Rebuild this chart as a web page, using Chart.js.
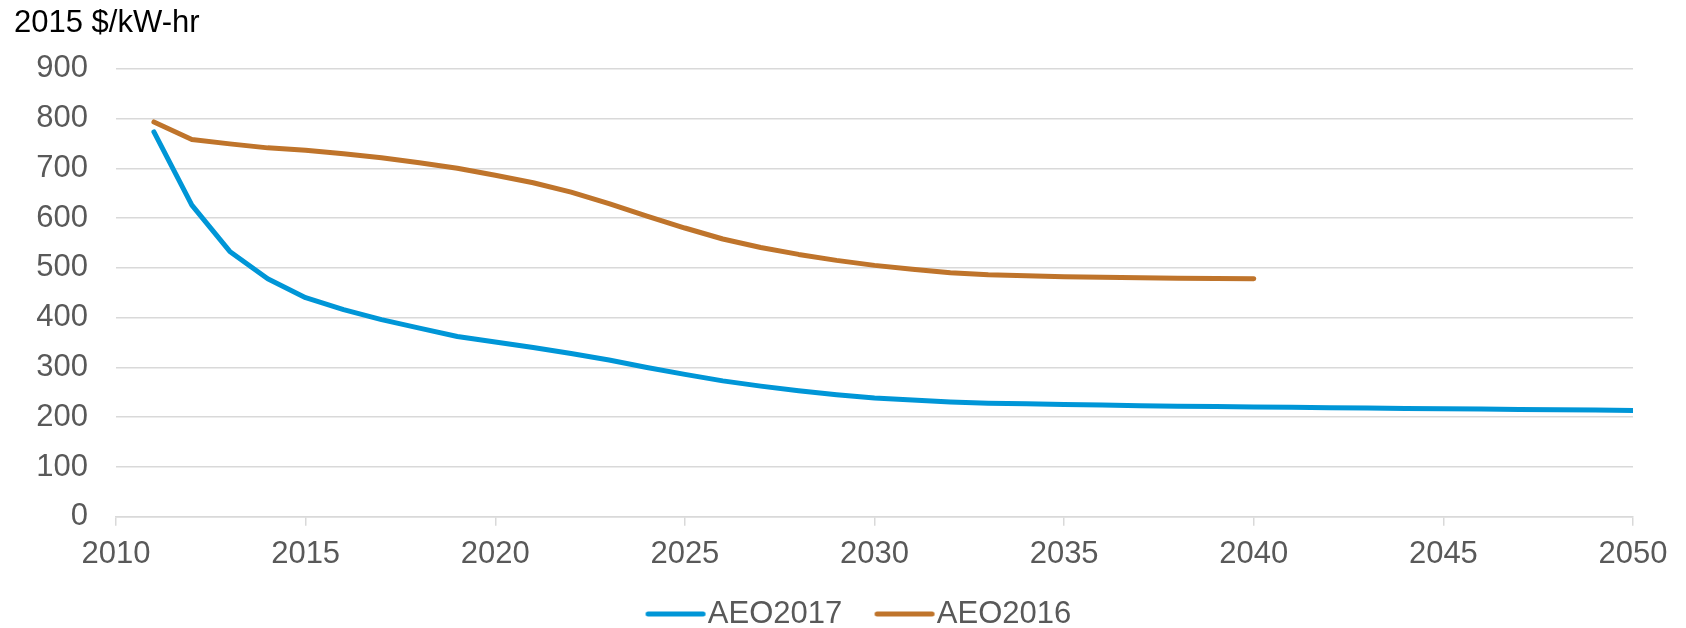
<!DOCTYPE html>
<html>
<head>
<meta charset="utf-8">
<script src="https://cdn.jsdelivr.net/npm/chart.js@4/dist/chart.umd.min.js"></script>
<style>
  html, body { margin: 0; padding: 0; background: #ffffff; }
  canvas { display: block; }
</style>
</head>
<body>
<canvas id="c" width="1686" height="628"></canvas>
<script>
const yAxisTitle = "2015 $/kW-hr";
const seriesNames = ["AEO2017", "AEO2016"];
const yearsAEO2017 = [2011,2012,2013,2014,2015,2016,2017,2018,2019,2020,2021,2022,2023,2024,2025,2026,2027,2028,2029,2030,2031,2032,2033,2034,2035,2036,2037,2038,2039,2040,2041,2042,2043,2044,2045,2046,2047,2048,2049,2050];
const valuesAEO2017 = [773,626,533,478,440,416,396,379,362,351,340,328,315,300,286,273,262.5,253,245,238.5,234.5,230.5,228,227,225.5,224.3,223.2,222.2,221.3,220.6,219.8,219.1,218.4,217.7,217,216.3,215.7,215,214.4,213.7];
const yearsAEO2016 = [2011,2012,2013,2014,2015,2016,2017,2018,2019,2020,2021,2022,2023,2024,2025,2026,2027,2028,2029,2030,2031,2032,2033,2034,2035,2036,2037,2038,2039,2040];
const valuesAEO2016 = [793,758,749,741,736,729,721,711,700,686,671,652,629,604,580,558,541,527,515,505,497,490,486,484,482,481,480,479,478.5,478];
const xTickValues = [2010,2015,2020,2025,2030,2035,2040,2045,2050];
const yTickValues = [0,100,200,300,400,500,600,700,800,900];

const toPoints = (xs, ys) => xs.map((x, i) => ({ x: x, y: ys[i] }));
const FONT = "Arial, 'Liberation Sans', sans-serif";
const FONT_SIZE = 31;
const tickColor = '#595959';
const gridColor = '#d9d9d9';
const seriesColors = ['#0096d7', '#bf742b'];

// legend swatch: a short thick line with round caps, placed just before the label text
function legendLine(color) {
  const cv = document.createElement('canvas');
  cv.width = 100; cv.height = 10;
  const g = cv.getContext('2d');
  g.strokeStyle = color;
  g.lineWidth = 5;
  g.lineCap = 'round';
  g.beginPath();
  g.moveTo(37.5, 5);
  g.lineTo(92.5, 5);
  g.stroke();
  return cv;
}
const legendSwatches = seriesColors.map(legendLine);

new Chart(document.getElementById('c'), {
  type: 'line',
  data: {
    datasets: seriesNames.map((name, i) => ({
      label: name,
      data: i === 0 ? toPoints(yearsAEO2017, valuesAEO2017) : toPoints(yearsAEO2016, valuesAEO2016),
      borderColor: seriesColors[i],
      backgroundColor: seriesColors[i],
      borderWidth: 5,
      pointRadius: 0,
      tension: 0,
      borderCapStyle: 'round',
      borderJoinStyle: 'round'
    }))
  },
  options: {
    responsive: false,
    animation: false,
    layout: { padding: { left: 14, right: 0, top: 0, bottom: 0 } },
    plugins: {
      title: {
        display: true,
        text: yAxisTitle,
        align: 'start',
        color: '#000000',
        font: { family: FONT, size: FONT_SIZE, weight: 'normal' },
        padding: { top: 5, bottom: 26.5 }
      },
      legend: {
        display: true,
        position: 'bottom',
        maxHeight: 45,
        labels: {
          usePointStyle: true,
          pointStyleWidth: 63.6,
          color: tickColor,
          font: { family: FONT, size: FONT_SIZE },
          padding: 15.5,
          generateLabels: (chart) => {
            const items = Chart.defaults.plugins.legend.labels.generateLabels(chart);
            items.forEach((it, i) => { it.pointStyle = legendSwatches[i]; });
            return items;
          }
        }
      },
      tooltip: { enabled: false }
    },
    scales: {
      x: {
        type: 'linear',
        min: xTickValues[0],
        max: xTickValues[xTickValues.length - 1],
        afterBuildTicks: (s) => { s.ticks = xTickValues.map(v => ({ value: v })); },
        afterFit: (s) => { s.paddingRight = 53; },
        ticks: {
          color: tickColor,
          font: { family: FONT, size: FONT_SIZE },
          padding: 10,
          maxRotation: 0,
          autoSkip: false,
          callback: (v) => String(v)
        },
        grid: { display: true, drawOnChartArea: false, drawTicks: true, tickLength: 9, color: gridColor, lineWidth: 1.5 },
        border: { display: true, color: gridColor, width: 1.5 }
      },
      y: {
        min: yTickValues[0],
        max: yTickValues[yTickValues.length - 1],
        afterBuildTicks: (s) => { s.ticks = yTickValues.map(v => ({ value: v })); },
        afterFit: (s) => { s.width = 102; },
        ticks: {
          color: tickColor,
          font: { family: FONT, size: FONT_SIZE },
          padding: 28
        },
        grid: { display: true, drawTicks: false, color: gridColor, lineWidth: 1.5 },
        border: { display: false }
      }
    }
  }
});
</script>
</body>
</html>
